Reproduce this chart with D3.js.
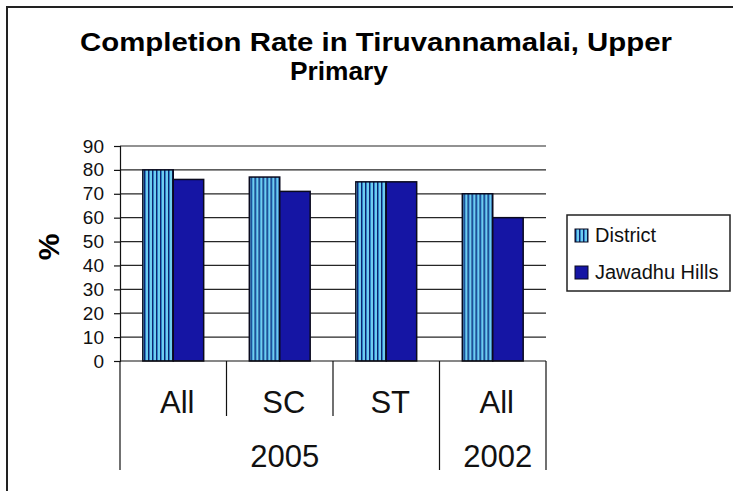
<!DOCTYPE html>
<html>
<head>
<meta charset="utf-8">
<script src="https://cdn.jsdelivr.net/npm/d3@7"></script>
<style>
  html, body { margin: 0; padding: 0; background: #fff; }
  svg { display: block; font-family: 'Liberation Sans', Arial, sans-serif; }
</style>
</head>
<body>
<svg id="chart" width="733" height="491"></svg>
<script>
// chart values
const titleLines = ['Completion Rate in Tiruvannamalai, Upper', 'Primary'];
const categories = ['All', 'SC', 'ST', 'All'];
const years = ['2005', '2005', '2005', '2002'];
const seriesNames = ['District', 'Jawadhu Hills'];
const districtValues = [80, 77, 75, 70];
const jawadhuValues = [76, 71, 75, 60];
const yTicks = [0, 10, 20, 30, 40, 50, 60, 70, 80, 90];
const yLabel = '%';

const svg = d3.select('#chart');
const margin = { top: 146, right: 187, bottom: 130, left: 120 };
const width = 733 - margin.left - margin.right;
const height = 491 - margin.top - margin.bottom;

// striped fill for the District bars
const defs = svg.append('defs');
const stripes = defs
  .append('pattern')
  .attr('id', 'stripes')
  .attr('patternUnits', 'userSpaceOnUse')
  .attr('width', 4)
  .attr('height', 10);
stripes.append('rect').attr('width', 4).attr('height', 10).attr('fill', '#6fcdef');
stripes.append('rect').attr('x', 0).attr('width', 1).attr('height', 10).attr('fill', '#0d2470');
stripes.append('rect').attr('x', 1).attr('width', 1).attr('height', 10).attr('fill', '#2b80c6');

const seriesFill = ['url(#stripes)', '#1515a4'];
const seriesValues = [districtValues, jawadhuValues];

// outer frame (cut off on the right and bottom in the scan)
svg
  .append('path')
  .attr('d', 'M7,491V7H733')
  .attr('fill', 'none')
  .attr('stroke', '#222')
  .attr('stroke-width', 2);

// title: the scan is a little narrow and tall, so stretch the glyphs
svg
  .append('text')
  .attr('x', 80)
  .attr('y', 51)
  .attr('textLength', 592)
  .attr('lengthAdjust', 'spacingAndGlyphs')
  .style('font-size', '25px')
  .style('font-weight', 'bold')
  .text(titleLines[0]);
svg
  .append('text')
  .attr('x', 290)
  .attr('y', 80)
  .attr('textLength', 98)
  .attr('lengthAdjust', 'spacingAndGlyphs')
  .style('font-size', '25px')
  .style('font-weight', 'bold')
  .text(titleLines[1]);

const graph = svg
  .append('g')
  .attr('transform', 'translate(' + margin.left + ',' + margin.top + ')');

const x0 = d3
  .scaleBand()
  .domain(d3.range(categories.length))
  .range([0, width]);
const gap = (x0.bandwidth() * 0.75) / 3.5;
const x1 = d3
  .scaleBand()
  .domain(d3.range(seriesNames.length))
  .range([gap, x0.bandwidth() - gap]);
const y = d3.scaleLinear().domain([0, 90]).range([height, 0]);

// gridlines
graph
  .selectAll('.grid')
  .data(yTicks.filter((t) => t > 0))
  .enter()
  .append('line')
  .attr('class', 'grid')
  .attr('x1', 0)
  .attr('x2', width)
  .attr('y1', (d) => y(d))
  .attr('y2', (d) => y(d))
  .attr('stroke', '#262626')
  .attr('stroke-width', 1.2);

// y axis
const yAxis = graph
  .append('g')
  .call(d3.axisLeft(y).tickValues(yTicks).tickSize(6).tickPadding(10));
yAxis.select('.domain').attr('stroke', '#111').attr('stroke-width', 1.2);
yAxis.selectAll('.tick line').attr('stroke', '#111').attr('stroke-width', 1.2);
yAxis
  .selectAll('.tick text')
  .style('font-size', '19px')
  .style('font-family', "'Liberation Sans', Arial, sans-serif")
  .attr('fill', '#111');

svg
  .append('text')
  .attr('transform', 'translate(59,247) rotate(-90)')
  .attr('text-anchor', 'middle')
  .style('font-size', '30px')
  .style('font-weight', 'bold')
  .text(yLabel);

// bars
const groups = graph
  .selectAll('.group')
  .data(d3.range(categories.length))
  .enter()
  .append('g')
  .attr('class', 'group')
  .attr('transform', (i) => 'translate(' + x0(i) + ',0)');

groups
  .selectAll('rect')
  .data((i) => seriesValues.map((vals, s) => ({ s: s, v: vals[i] })))
  .enter()
  .append('rect')
  .attr('x', (d) => x1(d.s))
  .attr('width', x1.bandwidth())
  .attr('y', (d) => y(d.v))
  .attr('height', (d) => height - y(d.v))
  .attr('fill', (d) => seriesFill[d.s])
  .attr('stroke', '#0a0a1e')
  .attr('stroke-width', 1.5);

// category axis, two levels
graph
  .append('line')
  .attr('x1', 0)
  .attr('x2', width)
  .attr('y1', height)
  .attr('y2', height)
  .attr('stroke', '#111')
  .attr('stroke-width', 1.2);

const yearSpans = [];
years.forEach((yr, i) => {
  const last = yearSpans[yearSpans.length - 1];
  if (last && last.label === yr) last.to = i;
  else yearSpans.push({ label: yr, from: i, to: i });
});

// short separators between categories in the same year
const innerSeps = d3
  .range(1, categories.length)
  .filter((i) => years[i] === years[i - 1]);
graph
  .selectAll('.sep')
  .data(innerSeps)
  .enter()
  .append('line')
  .attr('x1', (i) => x0(i))
  .attr('x2', (i) => x0(i))
  .attr('y1', height)
  .attr('y2', height + 55)
  .attr('stroke', '#111')
  .attr('stroke-width', 1.2);

// long separators round the year groups
const outerSeps = [0].concat(yearSpans.map((g) => g.to + 1));
graph
  .selectAll('.ysep')
  .data(outerSeps)
  .enter()
  .append('line')
  .attr('x1', (i) => (i < categories.length ? x0(i) : width))
  .attr('x2', (i) => (i < categories.length ? x0(i) : width))
  .attr('y1', height)
  .attr('y2', height + 109)
  .attr('stroke', '#111')
  .attr('stroke-width', 1.2);

graph
  .selectAll('.cat')
  .data(categories)
  .enter()
  .append('text')
  .attr('x', (d, i) => x0(i) + x0.bandwidth() / 2 + 4)
  .attr('y', height + 52)
  .attr('text-anchor', 'middle')
  .style('font-size', '31px')
  .attr('fill', '#111')
  .text((d) => d);

graph
  .selectAll('.year')
  .data(yearSpans)
  .enter()
  .append('text')
  .attr('x', (g) => (x0(g.from) + x0(g.to) + x0.bandwidth()) / 2 + 5)
  .attr('y', height + 106)
  .attr('text-anchor', 'middle')
  .style('font-size', '31px')
  .attr('fill', '#111')
  .text((g) => g.label);

// legend
const legend = svg.append('g').attr('transform', 'translate(567,215)');
legend
  .append('rect')
  .attr('width', 163)
  .attr('height', 76)
  .attr('fill', '#fff')
  .attr('stroke', '#222')
  .attr('stroke-width', 1.5);

const items = legend
  .selectAll('.item')
  .data(seriesNames)
  .enter()
  .append('g')
  .attr('class', 'item')
  .attr('transform', (d, i) => 'translate(8,' + (14 + i * 37) + ')');
items
  .append('rect')
  .attr('width', 13)
  .attr('height', 13)
  .attr('fill', (d, i) => seriesFill[i])
  .attr('stroke', '#0a0a1e')
  .attr('stroke-width', 1);
items
  .append('text')
  .attr('x', 20)
  .attr('y', 13)
  .style('font-size', '20px')
  .attr('fill', '#111')
  .text((d) => d);
</script>
</body>
</html>
